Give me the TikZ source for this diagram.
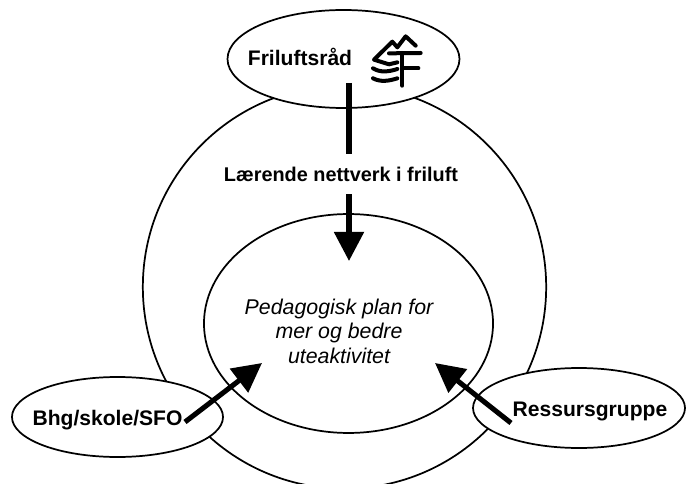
\documentclass[tikz,border=0pt]{standalone}
\usepackage{fontspec}
\setmainfont{Liberation Sans}
\usetikzlibrary{shapes.geometric,arrows.meta}
\tikzset{
  x=0.75pt,y=-0.75pt,
  ring/.style={shape=ellipse,draw=black,line width=1.3pt,fill=white,inner sep=0pt,outer sep=0pt},
  boldlabel/.style={font=\fontsize{15.8}{18}\selectfont\bfseries,inner sep=0pt,anchor=center},
  planlabel/.style={font=\fontsize{16}{18.4}\selectfont\itshape,inner sep=0pt,align=center},
  bigarrow/.style={line width=3.8pt,-{Triangle[length=21.8pt,width=21.8pt]},shorten >=0pt},
  logoline/.style={line width=3pt,draw=black,line join=round,line cap=round},
}
\begin{document}
\begin{tikzpicture}
\useasboundingbox (0,0) rectangle (688,484);
\clip (0,0) rectangle (688,484);
\node[ring,minimum width=302.5pt,minimum height=302.5pt] (outer) at (344.5,287) {};
\node[ring,minimum width=216.8pt,minimum height=164.2pt] (inner) at (348.5,323.5) {};
\node[ring,minimum width=174pt,minimum height=73.5pt] (friluft) at (343.5,59) {};
\node[ring,minimum width=158.3pt,minimum height=60pt] (bhg) at (117.5,417) {};
\node[ring,minimum width=159pt,minimum height=60pt] (ress) at (579,408) {};
\coordinate (a1) at (349,83);
\coordinate (a1t) at (349,261);
\coordinate (a2) at (185,422);
\coordinate (a2t) at (262,363);
\coordinate (a3) at (511,423);
\coordinate (a3t) at (435,363);
\draw[bigarrow] (a1) -- (a1t);
\draw[bigarrow] (a2) -- (a2t);
\draw[bigarrow] (a3) -- (a3t);
\node[boldlabel,font=\fontsize{14.9}{18}\selectfont\bfseries,fill=white,minimum height=30pt] (net) at (341,174) {Lærende nettverk i friluft};
\node[boldlabel] (t1) at (300,57) {Friluftsråd};
\node[boldlabel] (t2) at (107.5,420) {Bhg/skole/SFO};
\node[boldlabel] (t3) at (590,411) {Ressursgruppe};
\node[planlabel] (plan) at (339,331) {Pedagogisk plan for\\mer og bedre\\uteaktivitet};
% logo
\begin{scope}[shift={(369,29)},x=0.25pt,y=-0.25pt]
\draw[logoline] (140,50) -- (110,22) -- (85,55) -- (70,38) -- (15,92) -- (60,106) -- (85,100);
\draw[logoline] (60,73) -- (155,72);
\draw[logoline] (100,72) -- (100,170);
\draw[logoline] (100,118) -- (148,118);
\draw[logoline] (12,118) .. controls (35,132) and (60,128) .. (85,120);
\draw[logoline] (12,148) .. controls (35,160) and (60,156) .. (85,148);
\end{scope}
\end{tikzpicture}
\end{document}
